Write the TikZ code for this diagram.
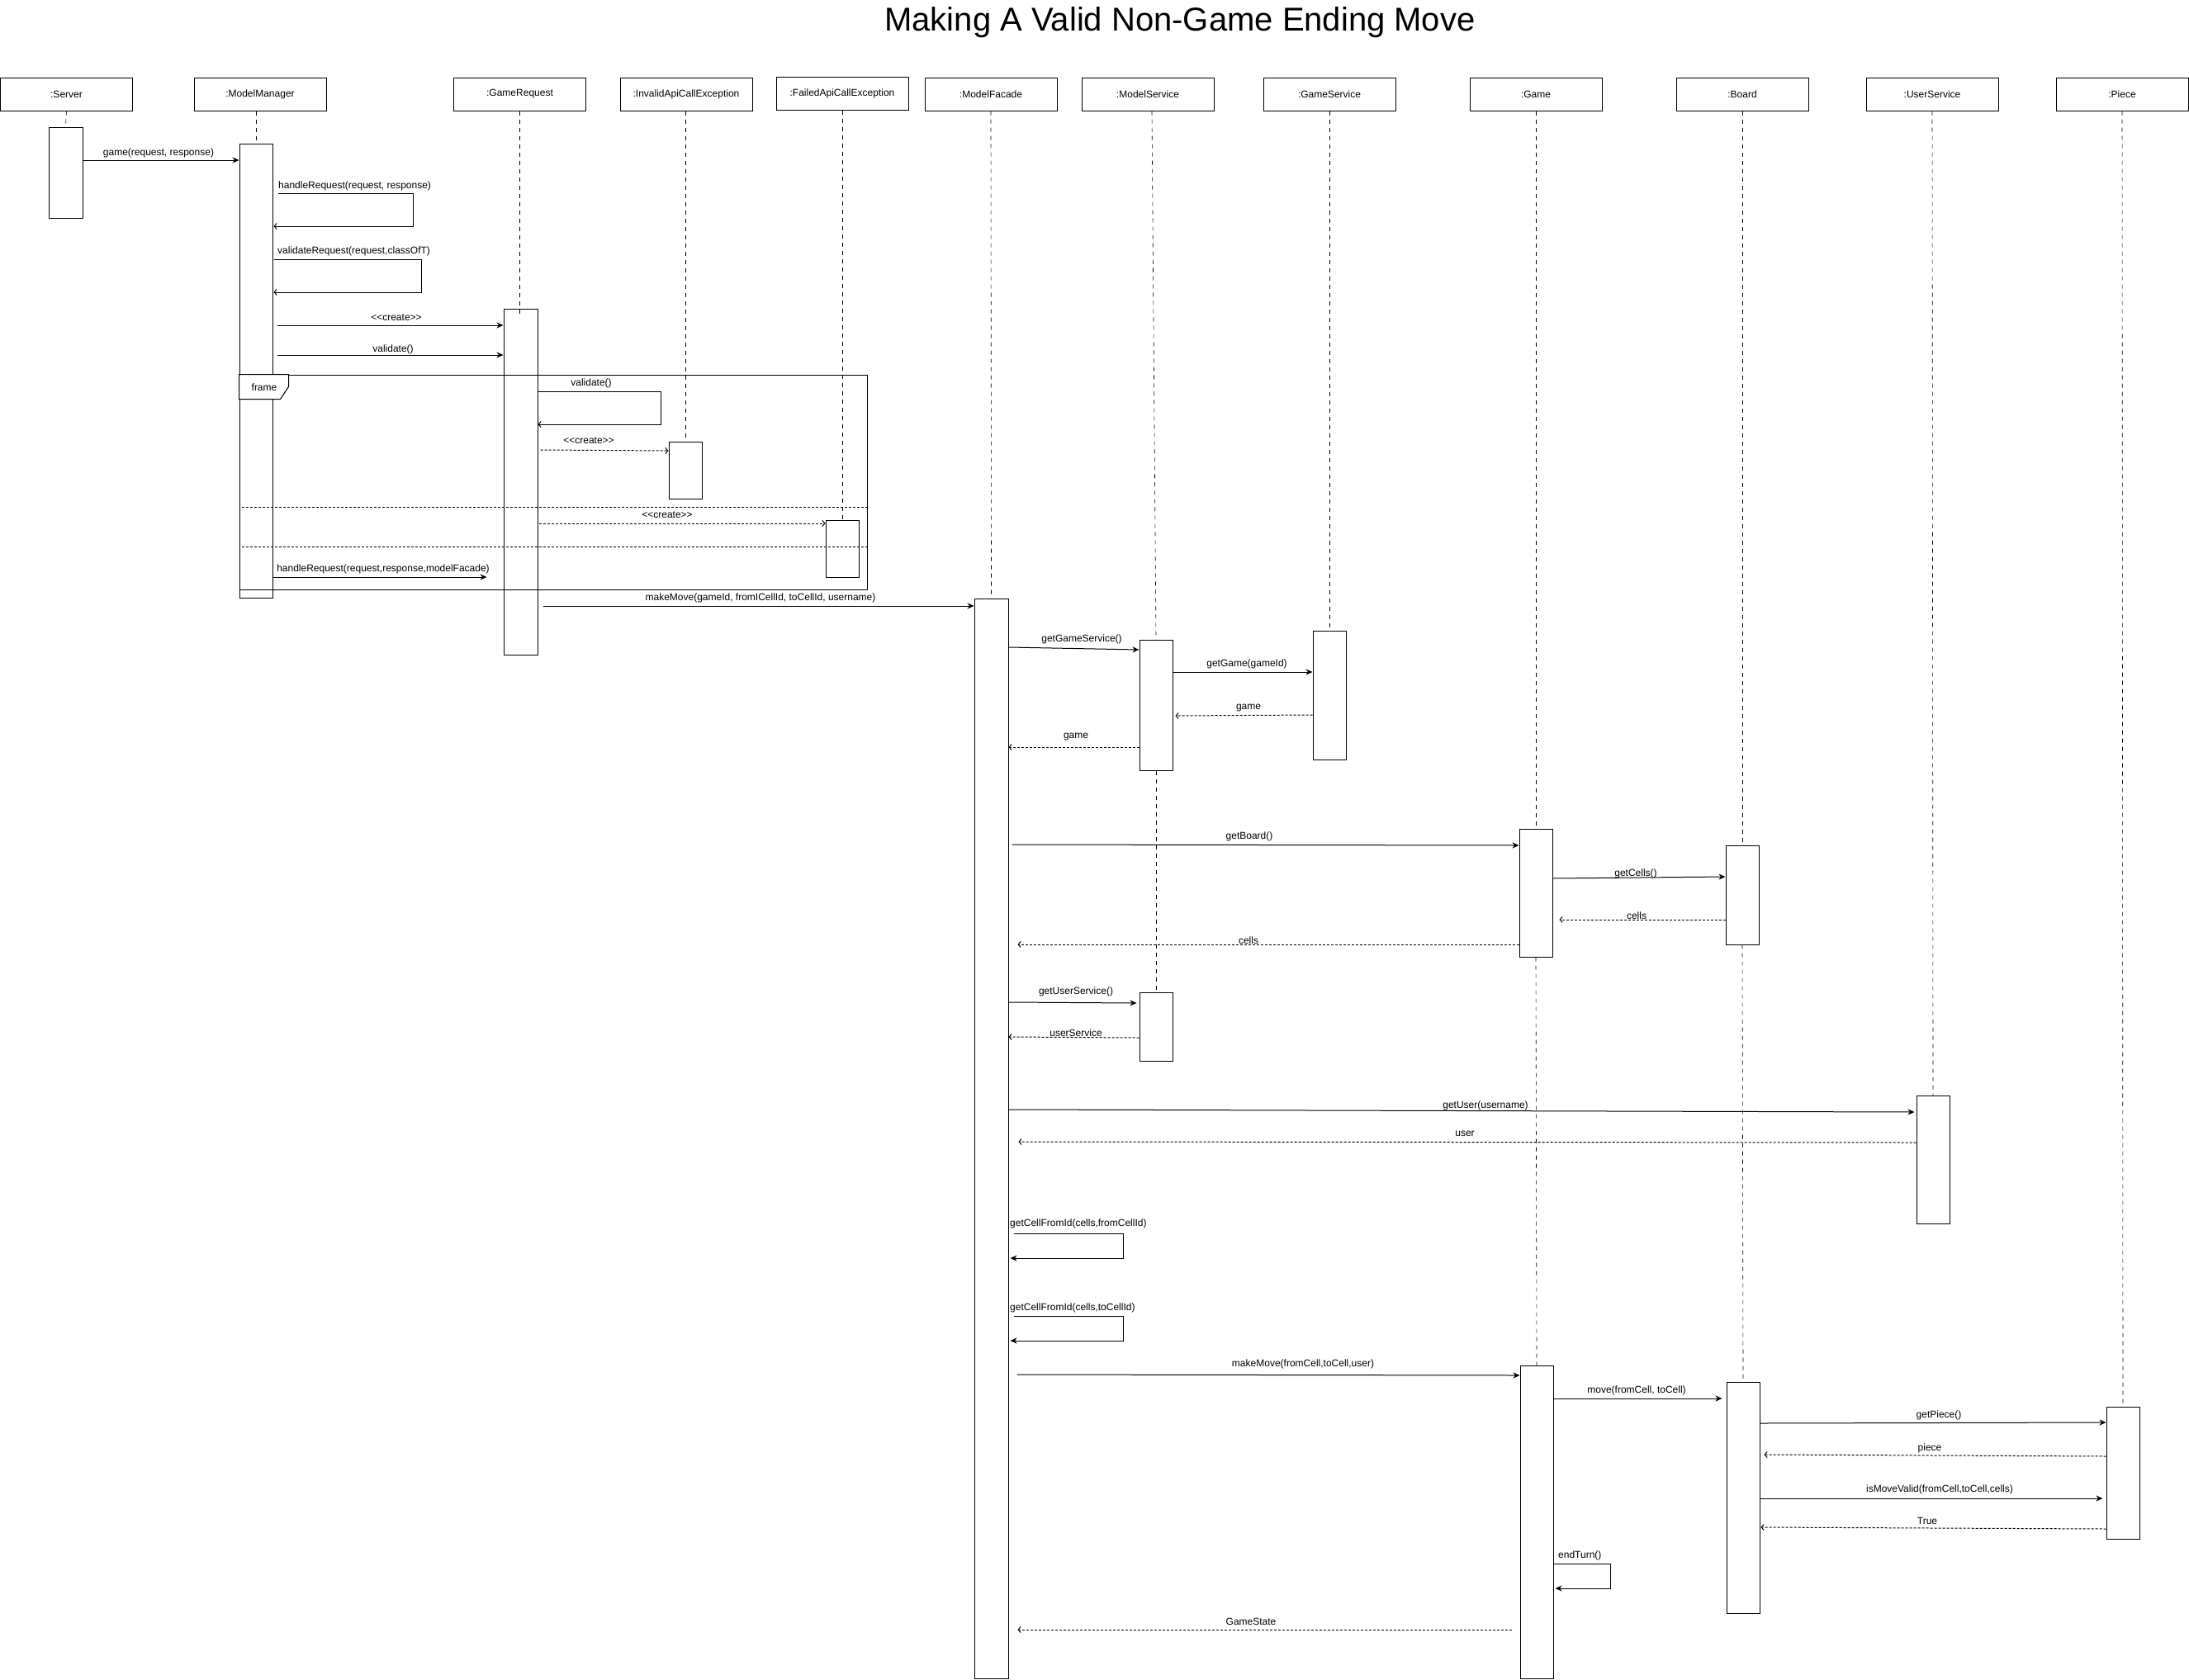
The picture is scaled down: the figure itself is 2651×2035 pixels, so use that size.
\documentclass[tikz,border=0pt]{standalone}
\usepackage{fontspec}
\setmainfont{Liberation Sans}
\usetikzlibrary{arrows.meta}
\newcommand\lblfont{\fontsize{12}{14}\selectfont}
\newcommand\crt{<\kern0pt<\kern0pt create>\kern0pt>}
\newcommand\actv[5]{\node[actbox, minimum width={#4-#2}, minimum height={#5-#3}] (#1) at ({(#2+#4)/2},{(#3+#5)/2}) {};}
\tikzset{
  hdr/.style={draw, line width=1pt, minimum width=160pt, minimum height=40pt, inner sep=0pt, font=\lblfont},
  actbox/.style={draw, fill=white, line width=1pt, inner sep=0pt},
  lifeline/.style={line width=0.6pt, dash pattern=on 5pt off 5pt},
  msg/.style={line width=1pt, -{Stealth[length=8pt,width=7pt,inset=2.5pt]}},
  ret/.style={line width=1pt, dash pattern=on 3pt off 2pt, -{Straight Barb[length=3pt,width=7pt]}},
  selfret/.style={line width=1pt, -{Straight Barb[length=3pt,width=7pt]}},
  lab/.style={font=\lblfont, inner sep=0pt},
}
\begin{document}
\begin{tikzpicture}[x=1pt,y=-1pt]
\fill[white] (0,0) rectangle (2651,2035);
\useasboundingbox (0,0) rectangle (2651,2035);

% title
\node[font=\fontsize{40}{48}\selectfont, inner sep=0pt] (title) at (1429,27) {Making A Valid Non-Game Ending Move};

% headers
\node[hdr] (hSrv) at (80.5,114) {:Server};
\node[hdr] (hMM) at (315,114) {:ModelManager};
\node[hdr] (hGR) at (629.5,114) {:GameRequest};
\node[hdr] (hIA) at (831,114) {:InvalidApiCallException};
\node[hdr] (hFA) at (1020,113) {:FailedApiCallException};
\node[hdr] (hMF) at (1200,114) {:ModelFacade};
\node[hdr] (hMS) at (1390,114) {:ModelService};
\node[hdr] (hGS) at (1610,114) {:GameService};
\node[hdr] (hG) at (1860,114) {:Game};
\node[hdr] (hB) at (2110,114) {:Board};
\node[hdr] (hUS) at (2340,114) {:UserService};
\node[hdr] (hP) at (2570,114) {:Piece};

% activations
\actv{aSrv}{59}{154}{100}{264}
\actv{aMM}{290}{174}{330}{724}
\actv{aGR}{610}{374}{651}{793}
\actv{aIA}{810}{535}{850}{604}
\actv{aFA}{1000}{630}{1040}{699}
\actv{aMF}{1180}{725}{1221}{2033}
\actv{aMS1}{1380}{775}{1420}{933}
\actv{aMS2}{1380}{1202}{1420}{1285}
\actv{aGS}{1590}{764}{1630}{920}
\actv{aG1}{1840}{1004}{1880}{1159}
\actv{aB1}{2090}{1024}{2130}{1144}
\actv{aUS}{2321}{1327}{2361}{1482}
\actv{aG2}{1841}{1654}{1881}{2033}
\actv{aB2}{2091}{1674}{2131}{1954}
\actv{aP}{2551}{1704}{2591}{1864}

% lifelines
\draw[lifeline] (hSrv.south) -- (aSrv.north);
\draw[lifeline] (hMM.south -| aMM.north) -- (aMM.north);
\draw[lifeline] (hGR.south) -- ++(0,250);
\draw[lifeline] (hIA.south -| aIA.north) -- (aIA.north);
\draw[lifeline] (hFA.south) -- (aFA.north);
\draw[lifeline] (hMF.south) -- (aMF.north);
\draw[lifeline] ([xshift=5pt]hMS.south) -- (aMS1.north);
\draw[lifeline] (aMS1.south) -- (aMS2.north);
\draw[lifeline] (hGS.south) -- (aGS.north);
\draw[lifeline] (hG.south) -- (aG1.north);
\draw[lifeline] (aG1.south) -- (aG2.north);
\draw[lifeline] (hB.south) -- (aB1.north);
\draw[lifeline] (aB1.south) -- (aB2.north);
\draw[lifeline] (hUS.south) -- (aUS.north);
\draw[lifeline] (hP.south) -- (aP.north);

% frame
\node[draw, line width=1pt, minimum width=760, minimum height=260, inner sep=0pt] (frm) at (670,584) {};
\draw[line width=1pt, dash pattern=on 3pt off 2pt] ([xshift=3pt]frm.west |- 0,614) -- (frm.east |- 0,614);
\draw[line width=1pt, dash pattern=on 3pt off 2pt] ([xshift=3pt]frm.west |- 0,662) -- (frm.east |- 0,662);
\draw[line width=1pt, fill=white] (frm.north west) -- ++(60,0) -- ++(0,15) -- ++(-10,15) -- ++(-50,0) -- cycle;
\node[lab] (frmlab) at (320,469) {frame};

% messages
\draw[msg] (aSrv.east |- 0,194) -- (aMM.west |- 0,194);
\node[lab] (l1) at (192,185) {game(request, response)};

\draw[selfret] ([xshift=6pt]aMM.east |- 0,234) -- ++(164,0) |- ([xshift=1pt]aMM.east |- 0,274);
\node[lab, anchor=west] (l2) at (337,225) {handleRequest(request, response)};

\draw[selfret] ([xshift=1pt]aMM.east |- 0,314) -- ++(179,0) |- ([xshift=1pt]aMM.east |- 0,354);
\node[lab, anchor=west] (l3) at (336,304) {validateRequest(request,classOfT)};

\draw[msg] ([xshift=5pt]aMM.east |- 0,394) -- (aGR.west |- 0,394);
\node[lab] (l4) at (480,385) {\crt};

\draw[msg] ([xshift=5pt]aMM.east |- 0,430) -- (aGR.west |- 0,430);
\node[lab] (l5) at (476,423) {validate()};

\draw[selfret] (aGR.east |- 0,474) -- ++(149,0) |- (aGR.east |- 0,514);
\node[lab] (l6) at (716,464) {validate()};

\draw[ret] ([xshift=3pt]aGR.east |- 0,545) -- (aIA.west |- 0,546);
\node[lab] (l7) at (713,534) {\crt};

\draw[ret] ([xshift=1pt]aGR.east |- 0,634) -- (aFA.west |- 0,634);
\node[lab] (l8) at (808,624) {\crt};

\draw[msg] (aMM.east |- 0,699) -- ([xshift=-20pt]aGR.west |- 0,699);
\node[lab] (l9) at (464,689) {handleRequest(request,response,modelFacade)};

\draw[msg] ([xshift=6pt]aGR.east |- 0,734) -- (aMF.west |- 0,734);
\node[lab] (l10) at (921,724) {makeMove(gameId, fromICellId, toCellId, username)};

\draw[msg] (aMF.east |- 0,784) -- (aMS1.west |- 0,787);
\node[lab] (l11) at (1310,774) {getGameService()};

\draw[msg] (aMS1.east |- 0,814) -- (aGS.west |- 0,814);
\node[lab] (l12) at (1510,804) {getGame(gameId)};

\draw[ret] (aGS.west |- 0,866) -- ([xshift=3pt]aMS1.east |- 0,867);
\node[lab] (l13) at (1512,858) {game};

\draw[ret] (aMS1.west |- 0,905) -- (aMF.east |- 0,905);
\node[lab] (l14) at (1303,893) {game};

\draw[msg] ([xshift=4pt]aMF.east |- 0,1023) -- (aG1.west |- 0,1024);
\node[lab] (l15) at (1513,1013) {getBoard()};

\draw[msg] (aG1.east |- 0,1064) -- (aB1.west |- 0,1062);
\node[lab] (l16) at (1981,1058) {getCells()};

\draw[ret] (aB1.west |- 0,1114) -- ([xshift=8pt]aG1.east |- 0,1114);
\node[lab] (l17) at (1982,1109) {cells};

\draw[ret] (aG1.west |- 0,1144) -- ([xshift=11pt]aMF.east |- 0,1144);
\node[lab] (l18) at (1512,1139) {cells};

\draw[msg] (aMF.east |- 0,1214) -- ([xshift=-3pt]aMS2.west |- 0,1215);
\node[lab] (l19) at (1303,1201) {getUserService()};

\draw[ret] (aMS2.west |- 0,1257) -- (aMF.east |- 0,1256);
\node[lab] (l20) at (1303,1251) {userService};

\draw[msg] (aMF.east |- 0,1344) -- ([xshift=-2pt]aUS.west |- 0,1347);
\node[lab] (l21) at (1799,1339) {getUser(username)};

\draw[ret] (aUS.west |- 0,1384) -- ([xshift=12pt]aMF.east |- 0,1383);
\node[lab] (l22) at (1774,1373) {user};

\draw[msg] ([xshift=6pt]aMF.east |- 0,1494) -- ++(133,0) |- ([xshift=2pt]aMF.east |- 0,1524);
\node[lab, anchor=west] (l23) at (1223,1482) {getCellFromId(cells,fromCellId)};

\draw[msg] ([xshift=6pt]aMF.east |- 0,1594) -- ++(133,0) |- ([xshift=2pt]aMF.east |- 0,1624);
\node[lab, anchor=west] (l24) at (1223,1584) {getCellFromId(cells,toCellId)};

\draw[msg] ([xshift=10pt]aMF.east |- 0,1665) -- (aG2.west |- 0,1666);
\node[lab] (l25) at (1578,1652) {makeMove(fromCell,toCell,user)};

\draw[msg] (aG2.east |- 0,1694) -- ([xshift=-5pt]aB2.west |- 0,1694);
\node[lab] (l26) at (1982,1684) {move(fromCell, toCell)};

\draw[msg] (aB2.east |- 0,1724) -- (aP.west |- 0,1723);
\node[lab] (l27) at (2348,1714) {getPiece()};

\draw[ret] (aP.west |- 0,1764) -- ([xshift=5pt]aB2.east |- 0,1762);
\node[lab] (l28) at (2337,1754) {piece};

\draw[msg] (aB2.east |- 0,1815) -- ([xshift=-4pt]aP.west |- 0,1815);
\node[lab] (l29) at (2349,1804) {isMoveValid(fromCell,toCell,cells)};

\draw[ret] (aP.west |- 0,1852) -- ([xshift=1pt]aB2.east |- 0,1850);
\node[lab] (l30) at (2334,1842) {True};

\draw[msg] (aG2.east |- 0,1894) -- ++(69,0) |- ([xshift=2pt]aG2.east |- 0,1924);
\node[lab, anchor=west] (l31) at (1887,1884) {endTurn()};

\draw[ret] ([xshift=-10pt]aG2.west |- 0,1974) -- ([xshift=11pt]aMF.east |- 0,1974);
\node[lab] (l32) at (1515,1964) {GameState};
\end{tikzpicture}
\end{document}
